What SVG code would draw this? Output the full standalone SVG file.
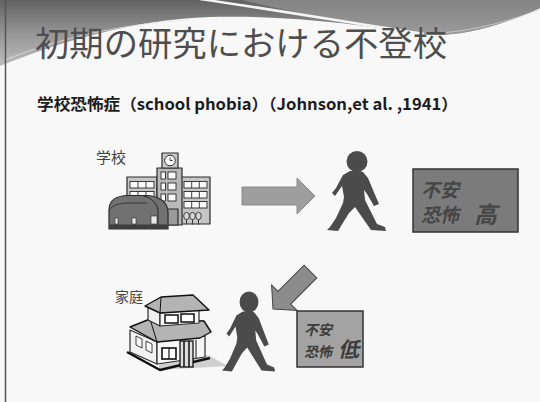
<svg xmlns="http://www.w3.org/2000/svg" xmlns:xlink="http://www.w3.org/1999/xlink" width="540" height="402" viewBox="0 0 540 402">
  <defs>
    <linearGradient id="bandGrad" x1="0" y1="0" x2="0" y2="1">
      <stop offset="0" stop-color="#626262"/>
      <stop offset="0.5" stop-color="#979797"/>
      <stop offset="1" stop-color="#c2c2c2"/>
    </linearGradient>
    <linearGradient id="capGrad" x1="0" y1="0" x2="0" y2="1">
      <stop offset="0" stop-color="#838383"/>
      <stop offset="1" stop-color="#9b9b9b"/>
    </linearGradient>
    <!-- walking figure, origin at head centre -->
    <g id="walker">
      <circle cx="0" cy="0" r="10.5"/>
      <path d="M-7,9.5 L-14,13.5 L-21,26.5 L-25,31.5 L-22,34.5 L-15,24.5 L-13,35.5 L-14,41.5 L-21,56.5 L-27,65.5 L-30,68.5 L-19,69.5 L-16,64.5 L-8,51.5 L-2,45.5 L7,58.5 L14,68.5 L29,69.5 L28,65.5 L20,62.5 L13,48.5 L8,38.5 L7,28.5 L10,32.5 L17,44.5 L22,42.5 L16,28.5 L11,16.5 L6,10.5 L3,9.5 Z"/>
    </g>
  </defs>
  <style>
    .title { font-family: "Noto Sans CJK JP", "Noto Sans", sans-serif; font-size: 34px; fill: #4e4e4e; }
    .sub { font-family: "Noto Sans CJK JP", "Noto Sans", sans-serif; font-size: 16px; font-weight: bold; fill: #1c1c1c; }
    .label { font-family: "Noto Sans CJK JP", sans-serif; fill: #444; }
    .boxtxt { font-family: "Noto Sans CJK JP", sans-serif; font-weight: bold; }
    .person { fill: #4b4b4b; }
    .box { stroke: #333; stroke-width: 1.5; }
    .ink { stroke: #2a2a2a; stroke-width: 1.2; stroke-linejoin: round; }
    .win { fill: #fafafa; stroke: #2a2a2a; stroke-width: 0.9; }
  </style>

  <!-- page -->
  <rect x="0" y="0" width="540" height="402" fill="#f8f8f8"/>

  <!-- header band -->
  <rect x="0" y="0" width="540" height="70" fill="url(#bandGrad)"/>
  <path d="M0,66 C60,42 130,20 210,17 C290,15 360,25 422,34 C452,38 492,30 540,8 V70 H0 Z" fill="#f8f8f8"/>
  <path d="M242,0 C300,14 368,26 425,34 C455,38 495,28 540,8 V0 Z" fill="url(#capGrad)"/>
  <path d="M200,-1 C290,12 362,25 424,34" fill="none" stroke="#f4f4f4" stroke-width="2.5"/>
  <path d="M5,60 C60,38 120,24 190,20" fill="none" stroke="#e6e6e6" stroke-width="1" opacity="0.7"/>
  <path d="M440,33 C480,30 510,20 540,10" fill="none" stroke="#d8d8d8" stroke-width="1" opacity="0.7"/>

  <!-- left rule -->
  <line x1="5.5" y1="0" x2="5.5" y2="402" stroke="#555" stroke-width="1.5"/>

  <!-- headings -->
  <text class="title" x="35" y="56" textLength="412" lengthAdjust="spacingAndGlyphs">初期の研究における不登校</text>
  <text class="sub" x="37" y="110" textLength="421" lengthAdjust="spacingAndGlyphs">学校恐怖症（school phobia）（Johnson,et al. ,1941）</text>

  <!-- school -->
  <g id="school">
    <text class="label" x="96" y="163" font-size="15">学校</text>
    <!-- right wing -->
    <rect class="ink" x="181" y="177" width="29" height="47" fill="#c6c6c6"/>
    <rect class="win" x="184" y="181.5" width="23" height="6.5"/>
    <rect class="win" x="184" y="191.5" width="23" height="6.5"/>
    <rect class="win" x="184" y="201.5" width="23" height="6.5"/>
    <path d="M191.7,181.5v6.5M199.3,181.5v6.5M191.7,191.5v6.5M199.3,191.5v6.5M191.7,201.5v6.5M199.3,201.5v6.5" stroke="#2a2a2a" stroke-width="0.9"/>
    <!-- left wing -->
    <rect class="ink" x="127" y="177" width="30" height="47" fill="#c6c6c6"/>
    <rect class="win" x="130" y="181.5" width="24" height="6.5"/>
    <rect class="win" x="130" y="191.5" width="24" height="6.5"/>
    <path d="M138,181.5v6.5M146,181.5v6.5M138,191.5v6.5M146,191.5v6.5" stroke="#2a2a2a" stroke-width="0.9"/>
    <!-- tower -->
    <rect class="ink" x="157" y="168" width="25" height="57" fill="#b9b9b9"/>
    <rect class="ink" x="162" y="153" width="16" height="15" fill="#c8c8c8"/>
    <circle cx="170" cy="160.5" r="5.3" fill="#fff" stroke="#2a2a2a" stroke-width="1"/>
    <path d="M170,157.3V160.5H172.6" fill="none" stroke="#2a2a2a" stroke-width="0.9"/>
    <rect class="win" x="161" y="172" width="4.5" height="7"/>
    <rect class="win" x="168" y="172" width="8" height="7"/>
    <rect class="win" x="161" y="183" width="4.5" height="7"/>
    <rect class="win" x="168" y="183" width="8" height="7"/>
    <rect class="win" x="161" y="194" width="4.5" height="7"/>
    <rect class="win" x="168" y="194" width="8" height="7"/>
    <rect class="ink" x="166" y="209" width="12" height="16" fill="#9a9a9a"/>
    <!-- trees -->
    <g fill="#d8d8d8" stroke="#2a2a2a" stroke-width="0.9">
      <ellipse cx="186.5" cy="216" rx="2.8" ry="3.6"/>
      <ellipse cx="192.5" cy="216" rx="2.8" ry="3.6"/>
      <ellipse cx="198.5" cy="216" rx="2.8" ry="3.6"/>
    </g>
    <path d="M186.5,219.5v5M192.5,219.5v5M198.5,219.5v5" stroke="#2a2a2a" stroke-width="0.9"/>
    <!-- hangar -->
    <path class="ink" d="M109,229 V210 C109,200 117,195.5 128,195.5 H146 C158,195.5 168,202 168,212 V229 Z" fill="#717171"/>
    <path d="M143,195.8 C152,198 158,204 158,212 V229" fill="none" stroke="#2a2a2a" stroke-width="1"/>
    <path d="M109,210 C113,205 120,203 128,203 H147" fill="none" stroke="#2a2a2a" stroke-width="0.8"/>
    <rect x="109" y="224.5" width="59" height="4.5" fill="#3d3d3d"/>
    <rect x="115" y="218" width="3" height="6" fill="#e8e8e8" stroke="#2a2a2a" stroke-width="0.6"/>
    <rect x="132" y="218" width="4" height="6" fill="#e8e8e8" stroke="#2a2a2a" stroke-width="0.6"/>
    <rect x="151" y="216" width="6" height="8" fill="#e8e8e8" stroke="#2a2a2a" stroke-width="0.6"/>
  </g>

  <!-- connectors -->
  <g id="connectors">
    <polygon points="242,187 297,187 297,178 315,196 297,214 297,205 242,205" fill="#9e9e9e" stroke="#8c8c8c" stroke-width="1"/>
    <polygon transform="translate(273,309) rotate(135)" points="-53,-9 -16,-9 -16,-18 0,0 -16,18 -16,9 -53,9" fill="#8c8c8c" stroke="#444" stroke-width="1"/>
  </g>

  <!-- figure at school -->
  <g id="walker-school" class="person">
    <use xlink:href="#walker" href="#walker" transform="translate(357,161.5)"/>
  </g>

  <!-- anxiety / fear high -->
  <g id="state-high">
    <rect class="box" x="413" y="169" width="105" height="63" fill="#7b7b7b"/>
    <g class="boxtxt" fill="#464646">
      <text transform="translate(421,197) skewX(-14)" font-size="19">不安</text>
      <text transform="translate(421,222) skewX(-14)" font-size="19">恐怖</text>
      <text transform="translate(474,223) skewX(-14)" font-size="23">高</text>
    </g>
  </g>

  <!-- home -->
  <g id="home">
    <text class="label" x="115" y="302" font-size="14">家庭</text>
    <!-- shadow -->
    <polygon points="158,370 228,366 208,355 160,362" fill="#cfcfcf"/>
    <!-- base -->
    <path d="M127,352 L160,370 L210,358" fill="none" stroke="#111" stroke-width="2.5" stroke-linejoin="round"/>
    <!-- lower walls -->
    <polygon class="ink" points="130,330 157,342 157,364 130,352" fill="#f2f2f2"/>
    <polygon class="ink" points="157,342 205,336 205,357 157,364" fill="#f6f6f6"/>
    <polygon class="win" points="136,336 142,339 142,348 136,345" fill="#fff" stroke-width="1.4"/>
    <polygon class="win" points="146,341 152,344 152,353 146,350" fill="#fff" stroke-width="1.4"/>
    <rect x="162" y="348" width="14" height="11" fill="#fff" stroke="#111" stroke-width="1.6"/>
    <path d="M169,348v11" stroke="#111" stroke-width="1.2"/>
    <rect x="180" y="341" width="13" height="26" fill="#ddd" stroke="#111" stroke-width="1.3"/>
    <path d="M184,341v26M189,341v26" stroke="#111" stroke-width="1.5"/>
    <path d="M196,340v18" stroke="#111" stroke-width="1"/>
    <!-- lower roof -->
    <polygon points="130,327 150,319 204,321 211,332 200,338 157,342" fill="#b4b4b4" stroke="#111" stroke-width="1.4" stroke-linejoin="round"/>
    <path d="M150,319 L157,342" stroke="#111" stroke-width="1"/>
    <!-- upper walls -->
    <polygon class="ink" points="148,306 160,313 160,326 148,320" fill="#efefef"/>
    <polygon class="ink" points="160,313 199,310 199,323 160,326" fill="#f6f6f6"/>
    <rect x="165" y="315" width="13" height="8" fill="#fff" stroke="#111" stroke-width="1.5"/>
    <rect x="181" y="314" width="13" height="8" fill="#fff" stroke="#111" stroke-width="1.5"/>
    <!-- upper roof -->
    <polygon points="145,306 161,297 193,295 209,310 160,313" fill="#b4b4b4" stroke="#111" stroke-width="1.4" stroke-linejoin="round"/>
    <path d="M161,297 L160,313" stroke="#111" stroke-width="1"/>
  </g>

  <!-- figure at home -->
  <g id="walker-home" class="person">
    <use xlink:href="#walker" href="#walker" transform="translate(249,302) scale(0.9,1)"/>
  </g>

  <!-- anxiety / fear low -->
  <g id="state-low">
    <rect class="box" x="297" y="311" width="66" height="56" fill="#a3a3a3"/>
    <g class="boxtxt" fill="#3c3c3c">
      <text transform="translate(304,335) skewX(-14)" font-size="14">不安</text>
      <text transform="translate(304,357) skewX(-14)" font-size="14">恐怖</text>
      <text transform="translate(338,357) skewX(-14)" font-size="21">低</text>
    </g>
  </g>
</svg>
